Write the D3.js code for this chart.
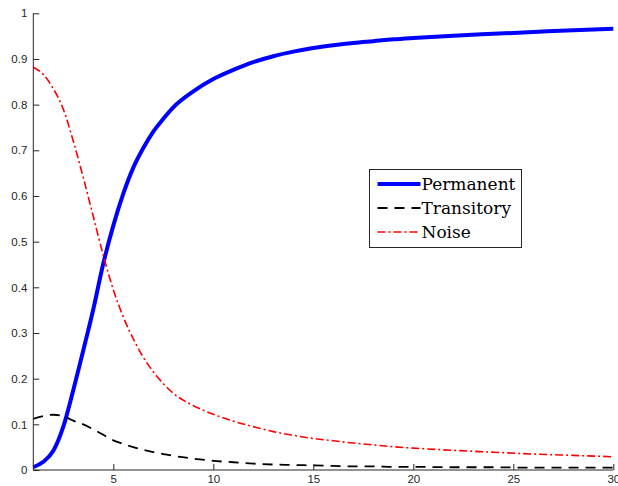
<!DOCTYPE html>
<html>
<head>
<meta charset="utf-8">
<script src="https://cdn.jsdelivr.net/npm/d3@7"></script>
<style>
  body { margin: 0; background: #fff; }
  svg { display: block; }
</style>
</head>
<body>
<div id="vis"></div>
<script>
// horizon values
var horizon    = [1, 1.5, 2, 2.5, 3, 3.5, 4, 4.5, 5, 5.5, 6, 6.5, 7, 7.5, 8, 9, 10, 11, 12, 13, 14, 15, 16, 17, 18, 19, 20, 22, 24, 26, 28, 30];
var permanent  = [0.006, 0.018, 0.042, 0.095, 0.175, 0.262, 0.352, 0.452, 0.535, 0.605, 0.662, 0.705, 0.741, 0.769, 0.794, 0.829, 0.856, 0.876, 0.893, 0.906, 0.916, 0.924, 0.930, 0.935, 0.939, 0.943, 0.946, 0.951, 0.955, 0.959, 0.963, 0.966];
var transitory = [0.112, 0.118, 0.121, 0.118, 0.108, 0.100, 0.089, 0.077, 0.065, 0.057, 0.050, 0.044, 0.039, 0.035, 0.031, 0.025, 0.020, 0.017, 0.014, 0.012, 0.011, 0.010, 0.009, 0.008, 0.008, 0.007, 0.007, 0.006, 0.006, 0.005, 0.005, 0.005];
var noise      = [0.882, 0.866, 0.835, 0.790, 0.720, 0.640, 0.555, 0.470, 0.395, 0.335, 0.287, 0.247, 0.215, 0.189, 0.168, 0.141, 0.122, 0.107, 0.095, 0.084, 0.076, 0.069, 0.064, 0.059, 0.055, 0.051, 0.048, 0.043, 0.039, 0.035, 0.032, 0.029];

var xTicks = [5, 10, 15, 20, 25, 30];
var yTicks = [0, 0.1, 0.2, 0.3, 0.4, 0.5, 0.6, 0.7, 0.8, 0.9, 1];

var series = [
  { name: 'Permanent',  values: permanent,  color: '#0000ff', width: 4,   dash: null },
  { name: 'Transitory', values: transitory, color: '#000000', width: 1.8, dash: '10,7' },
  { name: 'Noise',      values: noise,      color: '#ff0000', width: 1.6, dash: '8,3,2,3' }
];

var W = 618, H = 486;
var margin = { top: 13.3, left: 33.3, bottom: 16, right: 4.7 };
var width = W - margin.left - margin.right;
var height = H - margin.top - margin.bottom;

var svg = d3.select('#vis').append('svg')
  .attr('width', W)
  .attr('height', H);

var g = svg.append('g')
  .attr('transform', 'translate(' + margin.left + ',' + margin.top + ')');

var x = d3.scaleLinear().domain([1, 30]).range([0, width]);
var y = d3.scaleLinear().domain([0, 1]).range([height, 0]);

var line = d3.line()
  .x(function (d) { return x(d[0]); })
  .y(function (d) { return y(d[1]); })
  .curve(d3.curveMonotoneX);

// curves
series.forEach(function (s) {
  g.append('path')
    .datum(horizon.map(function (h, i) { return [h, s.values[i]]; }))
    .attr('d', line)
    .attr('fill', 'none')
    .attr('stroke', s.color)
    .attr('stroke-width', s.width)
    .attr('stroke-dasharray', s.dash);
});

// axes, ticks pointing inwards like matlab
var xAxis = g.append('g')
  .attr('transform', 'translate(0,' + height + ')')
  .call(d3.axisBottom(x).tickValues(xTicks).tickSizeInner(-6).tickSizeOuter(0).tickPadding(5)
    .tickFormat(d3.format('d')));

var yAxis = g.append('g')
  .call(d3.axisLeft(y).tickValues(yTicks).tickSizeInner(-6).tickSizeOuter(0).tickPadding(6)
    .tickFormat(function (d) { return d === 0 || d === 1 ? d : d3.format('.1f')(d); }));

[xAxis, yAxis].forEach(function (a) {
  a.selectAll('path, line').attr('stroke', '#262626').attr('stroke-width', 1);
  a.selectAll('text')
    .attr('fill', '#262626')
    .style('font-family', '"Liberation Sans", Arial, Helvetica, sans-serif')
    .style('font-size', '11.5px');
});
xAxis.select('.domain').attr('d', 'M0,0H' + width);
yAxis.select('.domain').attr('d', 'M0,0V' + height);

// legend
var lg = svg.append('g').attr('transform', 'translate(369.5,169.5)');
lg.append('rect')
  .attr('width', 152)
  .attr('height', 78)
  .attr('fill', '#fff')
  .attr('stroke', '#262626')
  .attr('stroke-width', 1);

series.forEach(function (s, i) {
  var yy = 14.5 + i * 24;
  lg.append('line')
    .attr('x1', 8).attr('x2', 51)
    .attr('y1', yy).attr('y2', yy)
    .attr('stroke', s.color)
    .attr('stroke-width', s.width)
    .attr('stroke-dasharray', s.dash);
  lg.append('text')
    .attr('x', 52)
    .attr('y', yy + 6)
    .attr('fill', '#000')
    .style('font-family', '"DejaVu Serif", serif')
    .style('font-size', '17px')
    .text(s.name);
});
</script>
</body>
</html>
